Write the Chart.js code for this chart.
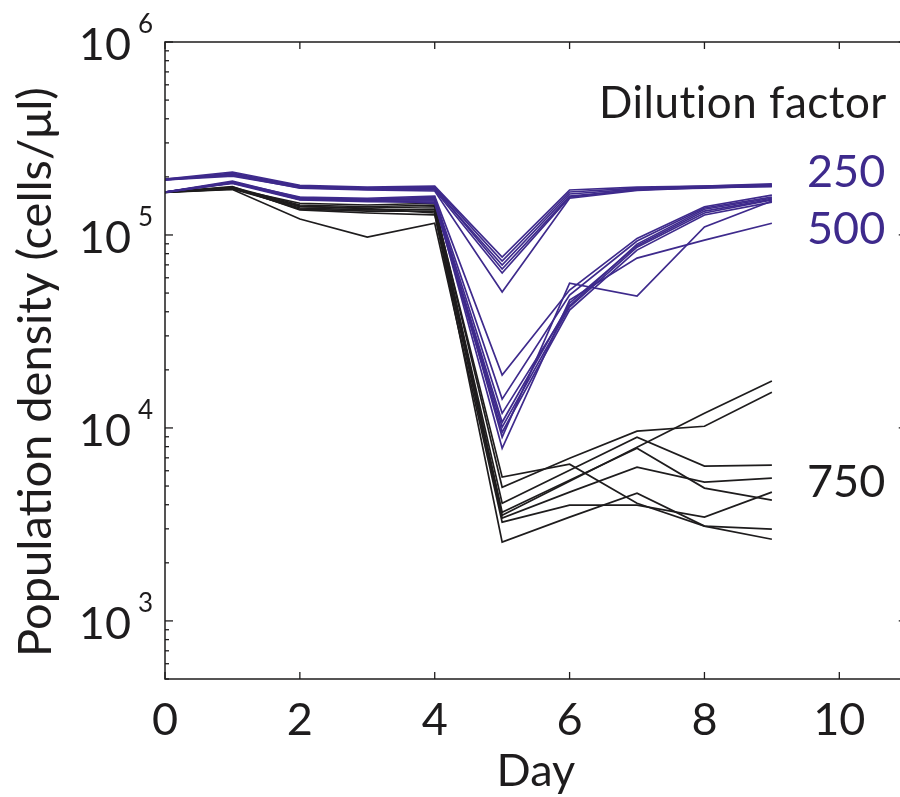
<!DOCTYPE html>
<html>
<head>
<meta charset="utf-8">
<script src="https://cdn.jsdelivr.net/npm/chart.js@4.4.1/dist/chart.umd.min.js"></script>
<style>
  html, body { margin: 0; padding: 0; background: #fff; overflow: hidden; }
</style>
</head>
<body>
<canvas id="popChart" width="900" height="797"></canvas>
<script>
// days sampled
const days = [0, 1, 2, 3, 4, 5, 6, 7, 8, 9];

// dilution factor 250 (purple, shallow dip)
const dil250 = [
    [1.95e5, 2.12e5, 1.81e5, 1.77e5, 1.79e5, 7.68e4, 1.71e5, 1.77e5, 1.79e5, 1.84e5],
    [1.93e5, 2.09e5, 1.79e5, 1.75e5, 1.77e5, 7.33e4, 1.67e5, 1.75e5, 1.79e5, 1.82e5],
    [1.93e5, 2.05e5, 1.77e5, 1.73e5, 1.73e5, 6.98e4, 1.63e5, 1.73e5, 1.77e5, 1.81e5],
    [1.95e5, 2.07e5, 1.78e5, 1.74e5, 1.75e5, 6.66e4, 1.59e5, 1.71e5, 1.77e5, 1.79e5],
    [1.93e5, 2.02e5, 1.76e5, 1.72e5, 1.71e5, 6.35e4, 1.57e5, 1.72e5, 1.75e5, 1.80e5],
    [1.94e5, 2.04e5, 1.75e5, 1.71e5, 1.69e5, 5.06e4, 1.55e5, 1.70e5, 1.76e5, 1.78e5]
];

// dilution factor 500 (purple, deep dip then recovery)
const dil500 = [
    [1.67e5, 1.88e5, 1.57e5, 1.55e5, 1.59e5, 1.88e4, 5.18e4, 9.6e4, 1.40e5, 1.61e5],
    [1.67e5, 1.86e5, 1.55e5, 1.53e5, 1.55e5, 1.41e4, 4.88e4, 9.3e4, 1.38e5, 1.57e5],
    [1.67e5, 1.90e5, 1.56e5, 1.52e5, 1.53e5, 1.19e4, 4.30e4, 8.97e4, 1.36e5, 1.55e5],
    [1.66e5, 1.87e5, 1.53e5, 1.50e5, 1.50e5, 1.07e4, 4.44e4, 8.8e4, 1.33e5, 1.53e5],
    [1.67e5, 1.85e5, 1.52e5, 1.49e5, 1.48e5, 1.01e4, 4.23e4, 8.65e4, 1.30e5, 1.52e5],
    [1.66e5, 1.86e5, 1.54e5, 1.51e5, 1.46e5, 9.5e3, 4.08e4, 8.35e4, 1.27e5, 1.48e5],
    [1.67e5, 1.87e5, 1.55e5, 1.53e5, 1.57e5, 8.96e3, 5.63e4, 4.82e4, 1.10e5, 1.50e5],
    [1.67e5, 1.88e5, 1.53e5, 1.52e5, 1.52e5, 7.85e3, 4.60e4, 7.59e4, 9.4e4, 1.15e5]
];

// dilution factor 750 (black, collapse)
const dil750 = [
    [1.67e5, 1.75e5, 1.40e5, 1.38e5, 1.40e5, 5.56e3, 6.49e3, 4.07e3, 3.10e3, 2.99e3],
    [1.66e5, 1.77e5, 1.43e5, 1.40e5, 1.43e5, 4.93e3, 6.97e3, 9.63e3, 1.02e4, 1.53e4],
    [1.67e5, 1.73e5, 1.38e5, 1.35e5, 1.36e5, 4.07e3, 6.04e3, 8.96e3, 6.34e3, 6.41e3],
    [1.67e5, 1.76e5, 1.36e5, 1.33e5, 1.33e5, 3.66e3, 5.36e3, 7.85e3, 4.88e3, 4.23e3],
    [1.66e5, 1.74e5, 1.46e5, 1.43e5, 1.46e5, 3.53e3, 5.30e3, 7.95e3, 1.19e4, 1.75e4],
    [1.67e5, 1.78e5, 1.35e5, 1.30e5, 1.27e5, 3.41e3, 4.65e3, 6.26e3, 5.24e3, 5.49e3],
    [1.67e5, 1.74e5, 1.41e5, 1.37e5, 1.30e5, 2.56e3, 3.45e3, 4.59e3, 3.10e3, 2.65e3],
    [1.66e5, 1.72e5, 1.21e5, 9.75e4, 1.15e5, 3.25e3, 3.98e3, 3.98e3, 3.45e3, 4.65e3]
];

const xTicks = [0, 2, 4, 6, 8, 10];
const yDecades = [1e3, 1e4, 1e5, 1e6];
const groupLabels = ['250', '500', '750'];

// the axes box ends at day 11, a little past the window edge
const X_VISIBLE_MAX = 10.9;
const X_BOX_MAX = 11;

const PURPLE = '#3e2a8c';
const INK = '#1e1c1d';
const FONT = 'Lato, "Open Sans", sans-serif';

function toPoints(vals) {
    return vals.map((v, i) => ({ x: days[i], y: v }));
}

function makeSet(vals, color) {
    return {
        data: toPoints(vals),
        borderColor: color,
        borderWidth: 1.7,
        pointRadius: 0,
        tension: 0,
        fill: false
    };
}

// purple first so it sits on top of the black runs
const datasets = [
    ...dil250.map(r => makeSet(r, PURPLE)),
    ...dil500.map(r => makeSet(r, PURPLE)),
    ...dil750.map(r => makeSet(r, INK))
];

// axes box, inward ticks and all the text, placed from the scales
const axisDecor = {
    id: 'axisDecor',
    afterDraw(chart) {
        const { ctx, chartArea: a, scales: { x, y } } = chart;
        const boxRight = x.getPixelForValue(X_BOX_MAX);
        ctx.save();
        ctx.strokeStyle = INK;

        const seg = (x1, y1, x2, y2) => {
            ctx.beginPath(); ctx.moveTo(x1, y1); ctx.lineTo(x2, y2); ctx.stroke();
        };

        ctx.lineWidth = 1.5;
        ctx.strokeRect(a.left, a.top, boxRight - a.left, a.bottom - a.top);

        ctx.lineWidth = 1.3;
        xTicks.forEach(d => {
            const px = x.getPixelForValue(d);
            seg(px, a.bottom, px, a.bottom - 7);
            seg(px, a.top, px, a.top + 7);
        });

        for (let k = 2; k <= 6; k++) {
            for (let m = 1; m <= 9; m++) {
                const v = m * Math.pow(10, k);
                if (v < y.min || v > y.max) continue;
                const py = y.getPixelForValue(v);
                const len = m === 1 ? 8 : 4;
                seg(a.left, py, a.left + len, py);
                seg(boxRight, py, boxRight - len, py);
            }
        }

        ctx.fillStyle = INK;
        ctx.textBaseline = 'alphabetic';

        // x tick labels
        ctx.font = '45px ' + FONT;
        ctx.textAlign = 'center';
        xTicks.forEach(d => ctx.fillText(String(d), x.getPixelForValue(d), 735));

        // y tick labels as 10^n
        yDecades.forEach(v => {
            const py = y.getPixelForValue(v);
            ctx.font = '45px ' + FONT;
            ctx.textAlign = 'right';
            ctx.fillText('10', 131, py + 18);
            ctx.font = '26px ' + FONT;
            ctx.textAlign = 'left';
            ctx.fillText(String(Math.round(Math.log10(v))), 138, py - 9);
        });

        // axis titles
        ctx.font = '45px ' + FONT;
        ctx.textAlign = 'center';
        ctx.fillText('Day', (a.left + boxRight) / 2, 786);

        ctx.save();
        ctx.font = '47px ' + FONT;
        ctx.translate(51, 372);
        ctx.rotate(-Math.PI / 2);
        ctx.fillText('Population density (cells/\u03bcl)', 0, 0);
        ctx.restore();

        // dilution factor key (tiny letter spacing keeps Lato from joining "ti")
        ctx.textAlign = 'left';
        ctx.font = '44px ' + FONT;
        ctx.letterSpacing = '0.5px';
        ctx.fillText('Dilution factor', 599, 118);
        ctx.letterSpacing = '0px';
        ctx.font = '45px ' + FONT;
        ctx.fillStyle = PURPLE;
        ctx.fillText(groupLabels[0], 807, 187);
        ctx.fillText(groupLabels[1], 807, 244);
        ctx.fillStyle = INK;
        ctx.fillText(groupLabels[2], 807, 497);

        ctx.restore();
    }
};

const ctx = document.getElementById('popChart').getContext('2d');
const popChart = new Chart(ctx, {
    type: 'line',
    data: { datasets: datasets },
    options: {
        responsive: false,
        animation: false,
        layout: { padding: { left: 165, top: 42, right: 0, bottom: 118 } },
        plugins: { legend: { display: false }, tooltip: { enabled: false } },
        scales: {
            x: { type: 'linear', min: 0, max: X_VISIBLE_MAX, display: false },
            y: { type: 'logarithmic', min: 500, max: 1e6, display: false }
        }
    },
    plugins: [axisDecor]
});
</script>
</body>
</html>
